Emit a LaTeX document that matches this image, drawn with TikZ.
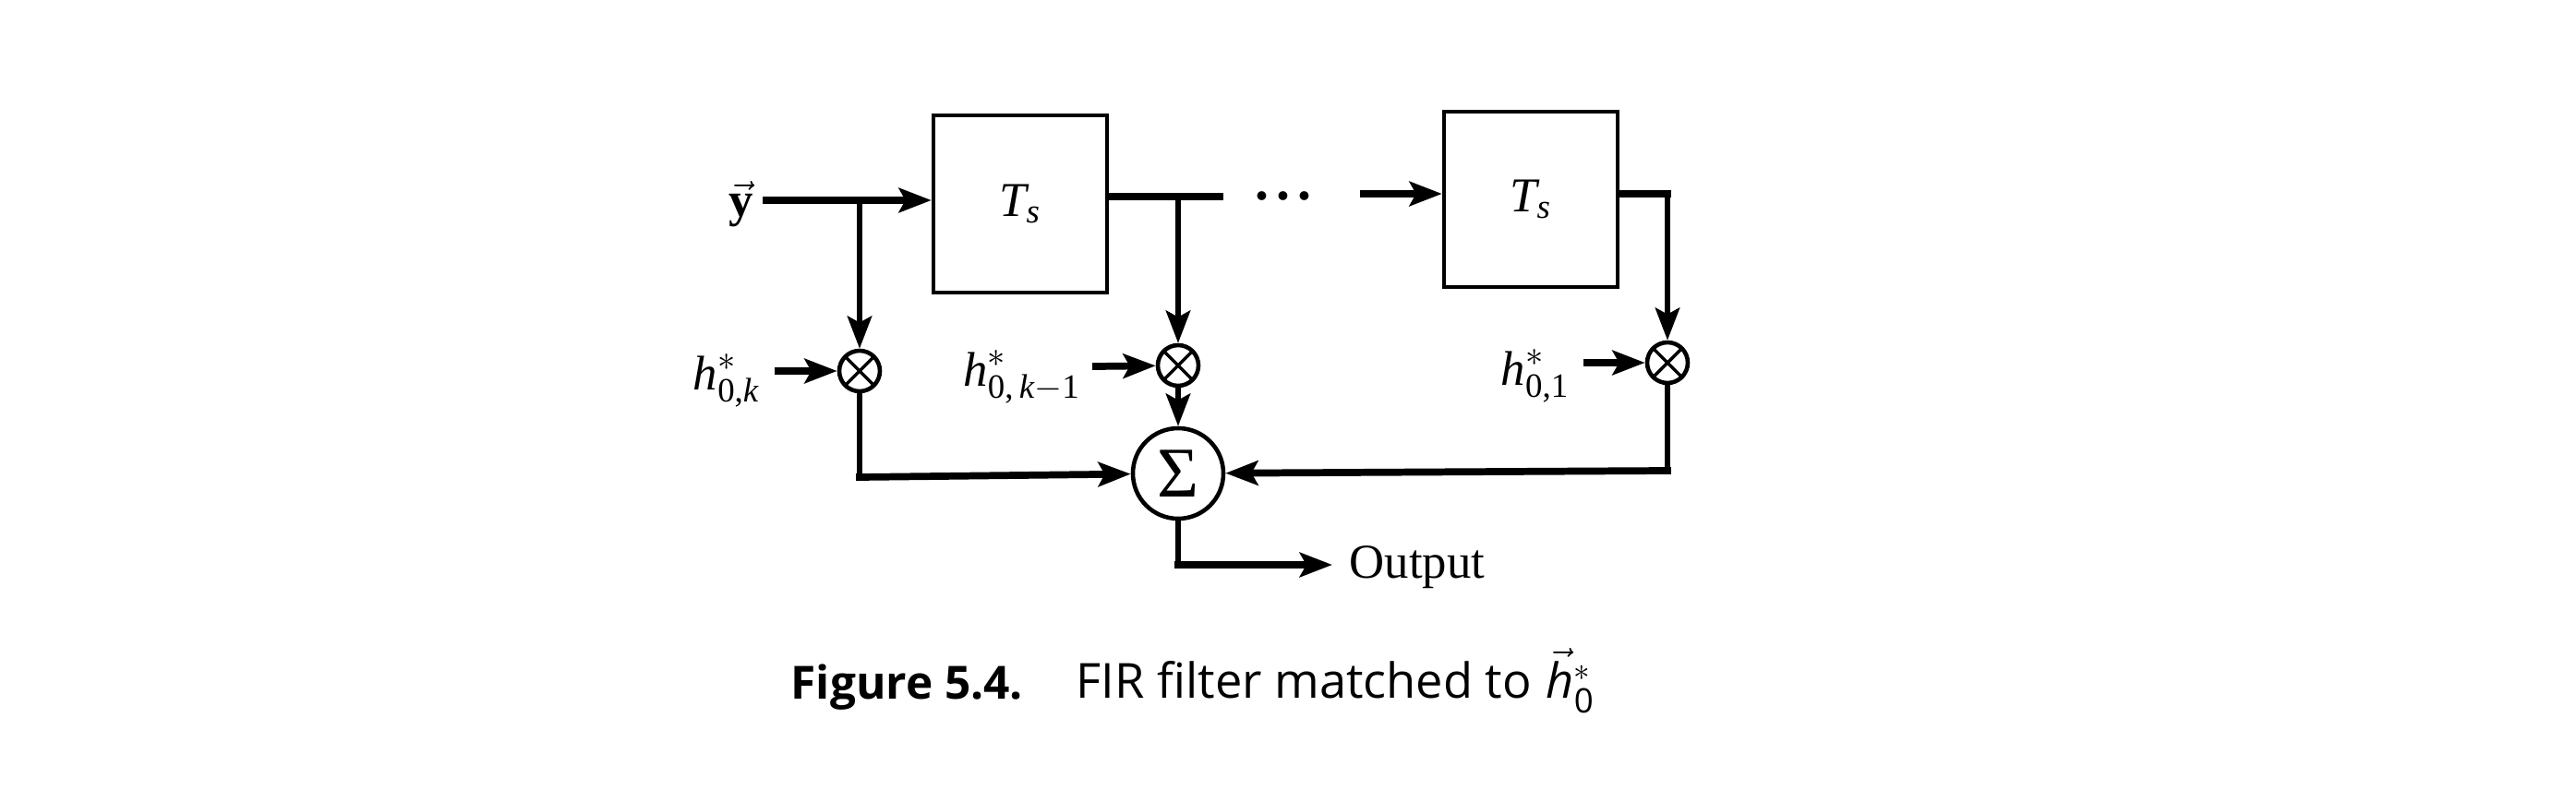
\documentclass[tikz,border=0pt]{standalone}
\usepackage{amsmath}
\usepackage{fontspec}
\setmainfont{Liberation Serif}
\newfontfamily\capfont{Open Sans}
\usetikzlibrary{arrows.meta}
\tikzset{
    delaybox/.style={draw,line width=1.25pt,minimum width=1.88cm,minimum height=1.92cm,inner sep=0pt},
    mult/.style={circle,draw,line width=1.3pt,minimum size=.44cm,inner sep=0pt,
        path picture={\draw[line width=1pt] (path picture bounding box.north west) -- (path picture bounding box.south east)
            (path picture bounding box.north east) -- (path picture bounding box.south west);}},
    wire/.style={line width=1.7pt,line cap=rect},
    bus/.style={line width=2.2pt,line cap=rect},
    tip/.style={-{Stealth[length=10pt,width=7.5pt,inset=2pt]}}
}
\begin{document}
\begin{tikzpicture}[font=\fontsize{15}{18}\selectfont]
    \useasboundingbox (0,0) rectangle (27.9,8.68);
    % the two delay boxes
    \node[delaybox] (box1) at (11.05,6.47) {$\textit{T}_{\textit{s}}$};
    \node[delaybox,minimum height=1.90cm] (box2) at (16.58,6.52) {$\textit{T}_{\textit{s}}$};
    % the multipliers and the summer
    \node[mult] (m1) at (9.31,4.66) {};
    \node[mult] (m2) at (12.76,4.72) {};
    \node[mult] (m3) at (18.06,4.75) {};
    \node[circle,draw,line width=1.3pt,minimum size=.98cm,inner sep=0pt,font=\fontsize{22}{24}\selectfont] (sum) at (12.76,3.55) {Σ};
    % labels
    \node (ylab) at (8.03,6.47) {$\vec{\textbf{y}}$};
    \node (h1) at (7.87,4.56) {$\textit{h}^{*}_{\text{0,}\textit{k}}$};
    \node (h2) at (11.07,4.60) {$\textit{h}^{*}_{\text{0,}\,\textit{k}-\text{1}}$};
    \node (h3) at (16.63,4.61) {$\textit{h}^{*}_{\text{0,1}}$};
    \node[anchor=west,inner sep=0pt] (out) at (14.61,2.53) {Output};
    \node[anchor=base,font=\fontsize{17}{18}\selectfont\bfseries] (dots) at (13.90,6.52) {.\kern2.2pt.\kern2.2pt.};
    % the free ends and corners of the wires
    \coordinate (yin) at (8.30,6.51);
    \coordinate (j1) at (9.31,6.51);
    \coordinate (out1) at (13.21,6.55);
    \coordinate (j2) at (12.76,6.55);
    \coordinate (in2) at (14.77,6.58);
    \coordinate (c2) at (18.06,6.58);
    \coordinate (h1in) at (8.43,4.66);
    \coordinate (h2in) at (11.87,4.71);
    \coordinate (h3in) at (17.19,4.75);
    \coordinate (c1) at (9.31,3.51);
    \coordinate (c3) at (18.06,3.58);
    \coordinate (c4) at (12.76,2.56);
    \coordinate (oend) at (14.43,2.56);
    % top row
    \draw[bus,tip] (yin) -- (yin -| box1.west);
    \draw[bus] (out1 -| box1.east) -- (out1);
    \draw[bus,tip] (in2) -- (in2 -| box2.west);
    \draw[bus] (c2 -| box2.east) -- (c2);
    % down to the multipliers
    \draw[wire,tip] (j1) -- (m1);
    \draw[wire,tip] (j2) -- (m2);
    \draw[wire,tip] (c2) -- (m3);
    % the coefficients
    \draw[bus,tip] (h1in) -- (m1);
    \draw[bus,tip] (h2in) -- (m2);
    \draw[bus,tip] (h3in) -- (m3);
    % into the summer
    \draw[wire,tip] (m2) -- (sum);
    \draw[wire] (m1) -- (c1);
    \draw[bus,tip] (c1) -- (sum);
    \draw[wire] (m3) -- (c3);
    \draw[bus,tip] (c3) -- (sum);
    % the output
    \draw[wire] (sum) -- (c4);
    \draw[bus,tip] (c4) -- (oend);
    % the caption
    \node[anchor=base west,inner sep=0pt,font=\capfont\fontsize{14.1}{16}\selectfont\bfseries] (figno) at (8.56,1.11) {Figure 5.4.};
    \node[anchor=base west,inner sep=0pt,font=\capfont\fontsize{14.9}{17}\selectfont] (cap) at (11.65,1.12) {FIR filter matched to\kern4.5pt$\vec{\textit{h}}\vphantom{\textit{h}}^{*}_{\text{0}}$};
\end{tikzpicture}
\end{document}
